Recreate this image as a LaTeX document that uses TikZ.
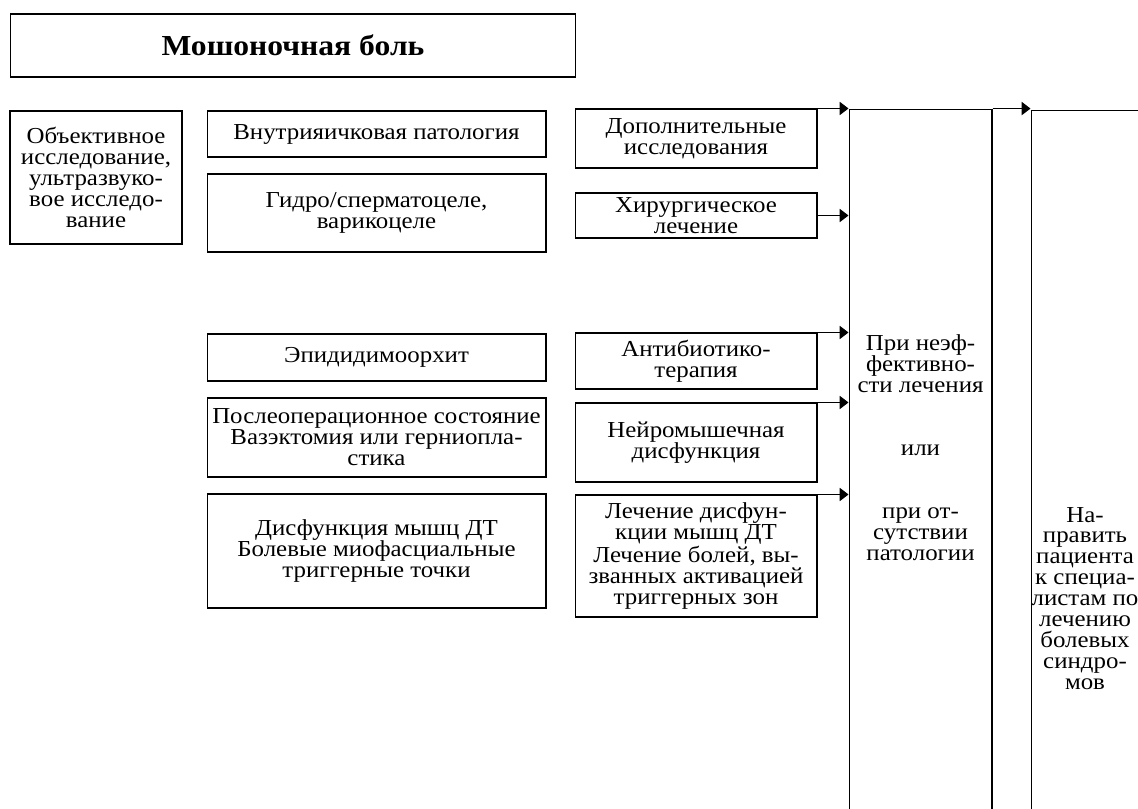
\documentclass[tikz,border=0pt]{standalone}
\usepackage{fontspec}
\setmainfont[FakeStretch=1.09]{Liberation Serif}
\usetikzlibrary{arrows.meta, positioning, calc}

\begin{document}
\begin{tikzpicture}[x=0.02cm, y=-0.02cm,
  every node/.style={font=\fontsize{13}{11.9}\selectfont, align=center, inner sep=1pt},
  box/.style={draw, rectangle, line width=0.6pt},
  arr/.style={-{Triangle[length=5pt,width=7.5pt]}, line width=0.6pt}]
\useasboundingbox (0,0) rectangle (1138,808);
\clip (0,0) rectangle (1138,808);
% Title
\node[box, minimum width=11.32cm, minimum height=1.26cm, font=\bfseries\fontsize{16.5}{20}\selectfont] (title) at (293,45.5) {Мошоночная боль};

% Examination
\node[box, minimum width=3.44cm, minimum height=2.66cm] (exam) at (96,177.5) {Объективное\\исследование,\\ультразвуко-\\вое исследо-\\вание};

% Diagnoses
\node[box, minimum width=6.78cm, minimum height=0.92cm] (intra) at (376.5,134) {Внутрияичковая патология};
\node[box, minimum width=6.78cm, minimum height=1.56cm] (hydro) at (376.5,213) {Гидро/сперматоцеле,\\варикоцеле};
\node[box, minimum width=6.78cm, minimum height=0.94cm] (epid) at (376.5,357.5) {Эпидидимоорхит};
\node[box, minimum width=6.78cm, minimum height=1.58cm] (postop) at (376.5,437.5) {Послеоперационное состояние\\Вазэктомия или герниопла-\\стика};
\node[box, minimum width=6.78cm, minimum height=2.28cm] (pelvic) at (376.5,551) {Дисфункция мышц ДТ\\Болевые миофасциальные\\триггерные точки};

% Treatments
\node[box, minimum width=4.84cm, minimum height=1.18cm] (extra) at (696,138.5) {Дополнительные\\исследования};
\node[box, minimum width=4.84cm, minimum height=0.90cm] (surg) at (696,215.5) {Хирургическое\\лечение};
\node[box, minimum width=4.84cm, minimum height=1.12cm] (abx) at (696,361) {Антибиотико-\\терапия};
\node[box, minimum width=4.84cm, minimum height=1.58cm] (neuro) at (696,442.5) {Нейромышечная\\дисфункция};
\node[box, minimum width=4.84cm, minimum height=2.44cm] (physio) at (696,556) {Лечение дисфун-\\кции мышц ДТ\\Лечение болей, вы-\\званных активацией\\триггерных зон};

% Failure column and referral
\node[box, minimum width=2.86cm, minimum height=14.42cm] (fail) at (920.5,469.5) {};
\node[anchor=north] (failtext) at (920.5,333) {При неэф-\\фективно-\\сти лечения\\ \\ \\или\\ \\ \\при от-\\сутствии\\патологии};
\node[box, minimum width=3.38cm, minimum height=14.4cm] (refer) at (1115.5,470) {};
\node[anchor=north] (refertext) at (1085,505) {На-\\править\\пациента\\к специа-\\листам по\\лечению\\болевых\\синдро-\\мов};

\draw[arr] ([xshift=-0.2cm]extra.north east) -- (extra.north east -| fail.west);
\draw[arr] (surg.east) -- (surg.east -| fail.west);
\draw[arr] ([xshift=-0.2cm]abx.north east) -- (abx.north east -| fail.west);
\draw[arr] ([xshift=-0.2cm]neuro.north east) -- (neuro.north east -| fail.west);
\draw[arr] ([xshift=-0.2cm]physio.north east) -- (physio.north east -| fail.west);
\draw[arr] (fail.north east) -- (fail.north east -| refer.west);
\end{tikzpicture}
\end{document}
